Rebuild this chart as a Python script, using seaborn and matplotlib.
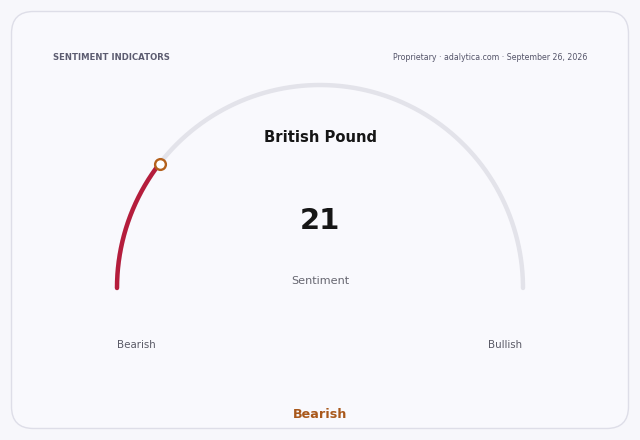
import numpy as np
import pandas as pd
import matplotlib
matplotlib.use("Agg")
import matplotlib.pyplot as plt
from matplotlib.patches import FancyBboxPatch
import seaborn as sns

# ---- data ----
asset_name = "British Pound"
sentiment_value = 21
scale_min = 0
scale_max = 100
end_labels = ["Bearish", "Bullish"]
verdict = "Bearish"
header_left = "SENTIMENT INDICATORS"
header_right = "Proprietary · adalytica.com · September 26, 2026"

sns.set_theme(style="white")
plt.rcParams['font.family'] = ['DejaVu Sans']

fig = plt.figure(figsize=(6.4, 4.4), dpi=100)
fig.patch.set_facecolor("#f7f7fb")
ax = fig.add_axes([0, 0, 1, 1])
ax.set_xlim(0, 640)
ax.set_ylim(440, 0)
ax.set_axis_off()

card = FancyBboxPatch((11.5, 11.5), 617, 417, boxstyle="round,pad=0,rounding_size=22",
                      facecolor="#f9f9fd", edgecolor="#dedee8", linewidth=1.0)
ax.add_patch(card)

cx, cy, r = 320, 288, 203

def arc_frame(v0, v1, n=200):
    t = np.linspace(v0, v1, n)
    ang = np.pi * (1 - (t - scale_min) / (scale_max - scale_min))
    return pd.DataFrame({"x": cx + r * np.cos(ang), "y": cy - r * np.sin(ang), "o": np.arange(n)})

track = arc_frame(scale_min, scale_max)
sns.lineplot(data=track, x="x", y="y", sort=False, ax=ax, color="#e3e3ea",
             linewidth=3.2, solid_capstyle="round", estimator=None)
val = arc_frame(scale_min, sentiment_value)
sns.lineplot(data=val, x="x", y="y", sort=False, ax=ax, color="#b51d3c",
             linewidth=3.2, solid_capstyle="round", estimator=None)
tip = val.iloc[[-1]]
sns.scatterplot(data=tip, x="x", y="y", ax=ax, s=60, color="white",
                edgecolor="#b4611c", linewidth=1.7, zorder=5)
ax.set_xlim(0, 640)
ax.set_ylim(440, 0)
ax.set_axis_off()

ax.text(53, 57.5, header_left, fontsize=6.1, fontweight="bold", color="#5c5c70",
        ha="left", va="center")
ax.text(587, 57.5, header_right, fontsize=5.7, color="#55556a", ha="right", va="center")
ax.text(320, 137, asset_name, fontsize=10.6, fontweight="bold", color="#161616",
        ha="center", va="center")
ax.text(320, 221, str(sentiment_value), fontsize=21, fontweight="bold", color="#161616",
        ha="center", va="center")
ax.text(320, 281.5, "Sentiment", fontsize=8.1, color="#666670", ha="center", va="center")
ax.text(136, 345.5, end_labels[0], fontsize=7.4, color="#5a5a66", ha="center", va="center")
ax.text(505, 345.5, end_labels[1], fontsize=7.4, color="#5a5a66", ha="center", va="center")
ax.text(320, 414, verdict, fontsize=9.2, fontweight="bold", color="#a9581b",
        ha="center", va="center")

fig.savefig("out.png", dpi=100, facecolor=fig.get_facecolor())
